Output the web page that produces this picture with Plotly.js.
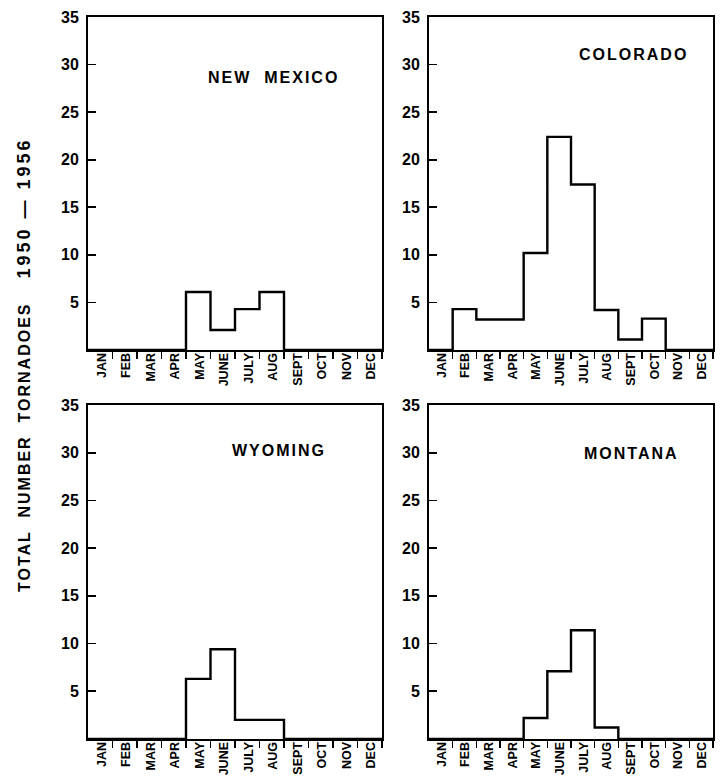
<!DOCTYPE html>
<html>
<head>
<meta charset="utf-8">
<script src="https://cdn.plot.ly/plotly-3.0.1.min.js"></script>
<style>
  html, body { margin: 0; padding: 0; background: #fff; }
  #chart { width: 723px; height: 778px; }
  .annotation-text { letter-spacing: 2px; }
  .annotation[data-index="5"] .annotation-text { letter-spacing: 3px; }
</style>
</head>
<body>
<div id="chart"></div>
<script>
// ---- data ----
const months = ['JAN','FEB','MAR','APR','MAY','JUNE','JULY','AUG','SEPT','OCT','NOV','DEC'];
const monthEnds = [1,2,3,4,5,6,7,8,9,10,11,12];
const yTicks = [5,10,15,20,25,30,35];
const yTickText = ['5','10','15','20','25','30','35'];

const newMexico = [0,0,0,0,6.1,2.1,4.3,6.1,0,0,0,0];
const colorado  = [0,4.3,3.2,3.2,10.2,22.4,17.4,4.2,1.1,3.3,0,0];
const wyoming   = [0,0,0,0,6.3,9.4,2.0,2.0,0,0,0,0];
const montana   = [0,0,0,0,2.2,7.1,11.4,1.2,0,0,0,0];

const stateNames = ['NEW  MEXICO','COLORADO','WYOMING','MONTANA'];
const yTitleA = 'TOTAL  NUMBER  TORNADOES';
const yTitleB = '1950 — 1956';

// ---- build ----
const W = 723, H = 778;
const FONT = 'Liberation Sans, Arial, sans-serif';
const series = [newMexico, colorado, wyoming, montana];
const edges = [0].concat(monthEnds);

const traces = series.map((vals, i) => ({
  type: 'scatter', mode: 'lines',
  x: edges,
  y: vals.concat([0]),
  line: {shape: 'hv', color: '#000', width: 2.4},
  xaxis: 'x' + (i === 0 ? '' : i + 1),
  yaxis: 'y' + (i === 0 ? '' : i + 1),
  hoverinfo: 'skip', showlegend: false
}));

const xDomL = [88 / W, 382 / W], xDomR = [429 / W, 713 / W];
const yDomT = [1 - 350 / H, 1 - 17 / H], yDomB = [1 - 739 / H, 1 - 405 / H];

function xax(dom, anchor) {
  return {
    domain: dom, anchor: anchor, range: [0, 12], fixedrange: true,
    showgrid: false, zeroline: false, showline: true, mirror: true,
    linecolor: '#000', linewidth: 2,
    tickmode: 'array', tickvals: monthEnds, ticktext: months,
    ticks: 'outside', ticklen: 7, tickwidth: 1.6, tickcolor: '#000',
    tickangle: -90, ticklabelshift: -11, ticklabelstandoff: -11,
    tickfont: {family: FONT, size: 12.5, color: '#000', weight: 'bold'}
  };
}
function yax(dom, anchor) {
  return {
    domain: dom, anchor: anchor, range: [0, 35], fixedrange: true,
    showgrid: false, zeroline: false, showline: true, mirror: true,
    linecolor: '#000', linewidth: 2,
    tickmode: 'array', tickvals: yTicks, ticktext: yTickText,
    ticks: 'inside', ticklen: 8, tickwidth: 1.6, tickcolor: '#000',
    ticklabelstandoff: 4,
    tickfont: {family: FONT, size: 16, color: '#000', weight: 'bold'}
  };
}

const titlePos = [[273, 77], [633, 55], [279, 450], [631, 453]];
const annotations = stateNames.map((t, i) => ({
  text: t, xref: 'paper', yref: 'paper',
  x: titlePos[i][0] / W, y: 1 - titlePos[i][1] / H,
  xanchor: 'center', yanchor: 'middle', showarrow: false,
  font: {family: FONT, size: 16, color: '#000', weight: 'bold'}
}));
annotations.push({
  text: yTitleA, xref: 'paper', yref: 'paper',
  x: 25 / W, y: 1 - 447 / H, textangle: -90,
  xanchor: 'center', yanchor: 'middle', showarrow: false,
  font: {family: FONT, size: 16, color: '#000', weight: 'bold'}
});
annotations.push({
  text: yTitleB, xref: 'paper', yref: 'paper',
  x: 24 / W, y: 1 - 208 / H, textangle: -90,
  xanchor: 'center', yanchor: 'middle', showarrow: false,
  font: {family: FONT, size: 18, color: '#000', weight: 'bold'}
});

const layout = {
  width: W, height: H,
  margin: {l: 0, r: 0, t: 0, b: 0},
  paper_bgcolor: '#fff', plot_bgcolor: '#fff',
  showlegend: false,
  xaxis: xax(xDomL, 'y'), yaxis: yax(yDomT, 'x'),
  xaxis2: xax(xDomR, 'y2'), yaxis2: yax(yDomT, 'x2'),
  xaxis3: xax(xDomL, 'y3'), yaxis3: yax(yDomB, 'x3'),
  xaxis4: xax(xDomR, 'y4'), yaxis4: yax(yDomB, 'x4'),
  annotations: annotations
};

Plotly.newPlot('chart', traces, layout, {staticPlot: true, displayModeBar: false});
</script>
</body>
</html>
